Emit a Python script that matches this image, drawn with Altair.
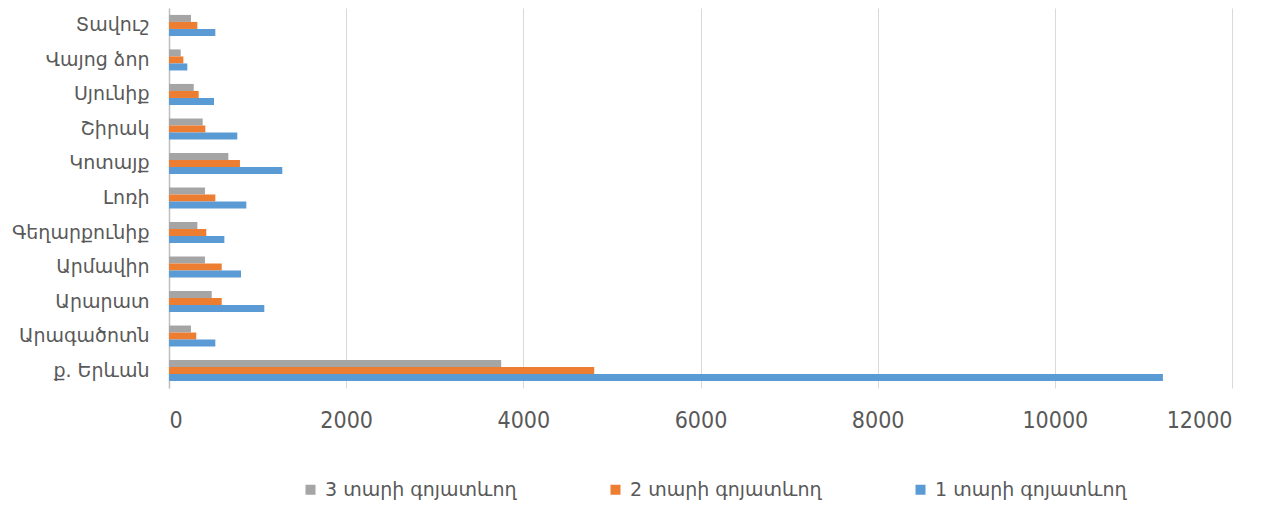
import altair as alt
import pandas as pd

regions = ["Տավուշ", "Վայոց ձոր", "Սյունիք", "Շիրակ", "Կոտայք", "Լոռի",
           "Գեղարքունիք", "Արմավիր", "Արարատ", "Արագածոտն", "ք. Երևան"]
series = ["3 տարի գոյատևող", "2 տարի գոյատևող", "1 տարի գոյատևող"]
vals_3 = [248, 132, 279, 380, 670, 406, 320, 406, 482, 248, 3750]
vals_2 = [320, 162, 335, 410, 801, 523, 421, 595, 595, 308, 4800]
vals_1 = [523, 207, 508, 771, 1279, 873, 625, 813, 1076, 523, 11220]
colors = ["#A5A5A5", "#ED7D31", "#5B9BD5"]
x_ticks = [0, 2000, 4000, 6000, 8000, 10000, 12000]

rows = []
for s, vals in zip(series, [vals_3, vals_2, vals_1]):
    for r, v in zip(regions, vals):
        rows.append({"region": r, "series": s, "value": v})
df = pd.DataFrame(rows)

font = "DejaVu Sans"
chart = alt.Chart(df).mark_bar(height={"band": 1}).encode(
    x=alt.X("value:Q", scale=alt.Scale(domain=[0, 12000], nice=False),
            axis=alt.Axis(title=None, values=x_ticks,
                          format="d", domain=False, ticks=False, grid=True,
                          gridColor="#D9D9D9", labelPadding=21, labelFontSize=23,
                          labelColor="#595959", labelFont="DejaVu Sans Condensed")),
    y=alt.Y("region:N", sort=regions, scale=alt.Scale(paddingInner=0.39, paddingOuter=0.2),
            axis=alt.Axis(title=None, ticks=False, domainColor="#BFBFBF", domainWidth=1.5,
                          labelPadding=20, labelFontSize=19, labelColor="#595959",
                          labelFont=font, labelLimit=0)),
    yOffset=alt.YOffset("series:N", sort=series),
    color=alt.Color("series:N", scale=alt.Scale(domain=series, range=colors),
                    legend=alt.Legend(title=None, orient="none", legendX=132, legendY=472,
                                      direction="horizontal",
                                      symbolType="square", symbolSize=100,
                                      columnPadding=89, labelFontSize=19, labelLimit=0,
                                      labelOffset=5,
                                      labelColor="#595959", labelFont=font,
                                      symbolStrokeWidth=0)),
).properties(
    width=1063, height=380,
    autosize=alt.AutoSizeParams(type="none"),
    padding={"left": 161, "top": 0, "right": 20, "bottom": 118},
).configure_view(strokeWidth=0)

chart.save("out.html", embed_options={"renderer": "svg", "actions": False})
